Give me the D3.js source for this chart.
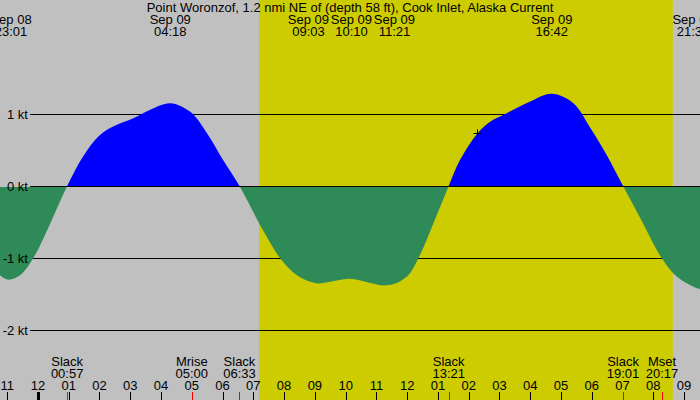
<!DOCTYPE html>
<html>
<head>
<meta charset="utf-8">
<script src="https://cdn.jsdelivr.net/npm/d3@7"></script>
<style>
  body { margin: 0; background: #fff; }
  svg { display: block; font-family: "Liberation Sans", Arial, sans-serif; font-size: 13px; }
</style>
</head>
<body>
<div id="chart"></div>
<script>
// chart text and data
var stationTitle = "Point Woronzof, 1.2 nmi NE of (depth 58 ft), Cook Inlet, Alaska Current";
var timeDomain = ["Sep 08 22:46", "Sep 09 21:31"];
var daylight = ["Sep 09 07:11", "Sep 09 20:38"];

// current speed (kt), + is flood, - is ebb
var curveTimes = [
  "Sep 08 22:46", "Sep 08 23:01", "Sep 08 23:25", "Sep 08 23:51", "Sep 09 00:24",
  "Sep 09 00:57", "Sep 09 01:28", "Sep 09 02:01", "Sep 09 02:34", "Sep 09 03:06",
  "Sep 09 03:39", "Sep 09 04:18", "Sep 09 04:57", "Sep 09 05:30", "Sep 09 06:01",
  "Sep 09 06:33", "Sep 09 07:20", "Sep 09 07:52", "Sep 09 08:25", "Sep 09 09:03",
  "Sep 09 10:10", "Sep 09 11:21", "Sep 09 11:59", "Sep 09 12:22", "Sep 09 12:51",
  "Sep 09 13:21", "Sep 09 13:43", "Sep 09 14:17", "Sep 09 14:41", "Sep 09 15:14",
  "Sep 09 15:59", "Sep 09 16:42", "Sep 09 17:24", "Sep 09 17:56", "Sep 09 18:29",
  "Sep 09 19:01", "Sep 09 19:40", "Sep 09 20:16", "Sep 09 20:46", "Sep 09 21:25",
  "Sep 09 21:31"
];
var curveValues = [
  -1.24, -1.30, -1.24, -1.00, -0.52,
  0, 0.41, 0.71, 0.85, 0.94,
  1.06, 1.15, 1.03, 0.73, 0.36,
  0, -0.63, -1.00, -1.24, -1.35,
  -1.29, -1.38, -1.26, -1.00, -0.52,
  0, 0.36, 0.73, 0.89, 1.01,
  1.17, 1.28, 1.15, 0.82, 0.43,
  0, -0.52, -1.00, -1.26, -1.42,
  -1.43
];

// max / min current times printed along the top
var extremaTimes = [
  "Sep 08 23:01", "Sep 09 04:18", "Sep 09 09:03", "Sep 09 10:10",
  "Sep 09 11:21", "Sep 09 16:42", "Sep 09 21:34"
];

// slack water and moon events along the bottom
var eventNames = ["Slack", "Mrise", "Slack", "Slack", "Slack", "Mset"];
var eventTimes = [
  "Sep 09 00:57", "Sep 09 05:00", "Sep 09 06:33",
  "Sep 09 13:21", "Sep 09 19:01", "Sep 09 20:17"
];

var gridValues = [1, 0, -1, -2];

// the small cross drawn on the curve
var markerTime = "Sep 09 14:17";
var markerValue = 0.73;

var width = 700;
var height = 400;

var parse = d3.utcParse("%b %d %H:%M");
var fmtDay = d3.utcFormat("%b %d");
var fmtTime = d3.utcFormat("%H:%M");
var fmtHour = d3.utcFormat("%I");

var x = d3.scaleUtc().domain(timeDomain.map(parse)).range([0, width]);
var y = d3.scaleLinear().domain([1, -2]).range([114, 330]);
var y0 = y(0);

var svg = d3.select("#chart").append("svg")
  .attr("width", width)
  .attr("height", height);

// night background and daylight band
svg.append("rect")
  .attr("width", width).attr("height", height)
  .attr("fill", "#c0c0c0");

svg.append("rect")
  .attr("x", x(parse(daylight[0])))
  .attr("width", x(parse(daylight[1])) - x(parse(daylight[0])))
  .attr("height", height)
  .attr("fill", "#cccc00");

// horizontal speed lines
svg.selectAll(".grid").data(gridValues).enter().append("line")
  .attr("class", "grid")
  .attr("x1", 30).attr("x2", width)
  .attr("y1", function (d) { return Math.round(y(d)) + 0.5; })
  .attr("y2", function (d) { return Math.round(y(d)) + 0.5; })
  .attr("stroke", "#000");

// the current curve, blue above zero, green below
var points = curveTimes.map(function (t, i) {
  return { t: parse(t), v: curveValues[i] };
});

var area = d3.area()
  .x(function (d) { return x(d.t); })
  .y0(y0)
  .y1(function (d) { return y(d.v); })
  .curve(d3.curveCatmullRom.alpha(0.5));

var defs = svg.append("defs");
defs.append("clipPath").attr("id", "clip-flood")
  .append("rect").attr("width", width).attr("height", y0);
defs.append("clipPath").attr("id", "clip-ebb")
  .append("rect").attr("y", y0 + 1).attr("width", width).attr("height", height - y0);

svg.append("path")
  .datum(points)
  .attr("d", area)
  .attr("fill", "#0000ff")
  .attr("clip-path", "url(#clip-flood)");

svg.append("path")
  .datum(points)
  .attr("d", area)
  .attr("fill", "#2e8b57")
  .attr("clip-path", "url(#clip-ebb)");

svg.selectAll(".grid-label").data(gridValues).enter().append("text")
  .attr("class", "grid-label")
  .attr("x", 28)
  .attr("y", function (d) { return y(d) + 4.5; })
  .attr("text-anchor", "end")
  .text(function (d) { return d + " kt"; });

// cross marker
var mx = Math.round(x(parse(markerTime))) + 0.5;
var my = Math.round(y(markerValue)) + 0.5;
svg.append("path")
  .attr("d", "M" + (mx - 4) + "," + my + "H" + (mx + 4) + "M" + mx + "," + (my - 4) + "V" + (my + 4))
  .attr("stroke", "#000")
  .attr("fill", "none");

// title
svg.append("text")
  .attr("x", width / 2)
  .attr("y", 12)
  .attr("text-anchor", "middle")
  .text(stationTitle);

// top labels for max/min times, spread apart where they crowd
var minGap = 43;
var ext = extremaTimes.map(function (t) {
  var d = parse(t);
  return { d: d, x: x(d) };
});
var i = 0;
while (i < ext.length) {
  var j = i;
  while (j + 1 < ext.length && ext[j + 1].x - ext[j].x < minGap) j++;
  if (j > i) {
    var mid = d3.mean(ext.slice(i, j + 1), function (e) { return e.x; });
    for (var k = i; k <= j; k++) {
      ext[k].x = mid + (k - i - (j - i) / 2) * minGap;
    }
  }
  i = j + 1;
}
ext.forEach(function (e) { e.x = Math.max(11, Math.min(width - 7, e.x)); });

var topLabels = svg.selectAll(".extreme").data(ext).enter().append("g")
  .attr("class", "extreme");
topLabels.append("text")
  .attr("x", function (e) { return e.x; })
  .attr("y", 24)
  .attr("text-anchor", "middle")
  .text(function (e) { return fmtDay(e.d); });
topLabels.append("text")
  .attr("x", function (e) { return e.x; })
  .attr("y", 36)
  .attr("text-anchor", "middle")
  .text(function (e) { return fmtTime(e.d); });

// hour ticks along the bottom
var hours = d3.utcHour.range(x.domain()[0], x.domain()[1]);
svg.selectAll(".hour-tick").data(hours).enter().append("line")
  .attr("class", "hour-tick")
  .attr("x1", function (d) { return Math.round(x(d)) + 0.5; })
  .attr("x2", function (d) { return Math.round(x(d)) + 0.5; })
  .attr("y1", 392).attr("y2", height)
  .attr("stroke", "#000")
  .attr("stroke-width", function (d) { return d.getUTCHours() === 0 ? 3 : 1; });

svg.selectAll(".hour-label").data(hours).enter().append("text")
  .attr("class", "hour-label")
  .attr("x", function (d) { return x(d); })
  .attr("y", 390)
  .attr("text-anchor", "middle")
  .text(function (d) { return fmtHour(d); });

// events: red ticks and two-line labels
var events = eventTimes.map(function (t, i) {
  return { d: parse(t), name: eventNames[i] };
});
svg.selectAll(".event-tick").data(events).enter().append("line")
  .attr("class", "event-tick")
  .attr("x1", function (e) { return Math.round(x(e.d)) + 0.5; })
  .attr("x2", function (e) { return Math.round(x(e.d)) + 0.5; })
  .attr("y1", 392).attr("y2", height)
  .attr("stroke", "#ff0000");

var ev = svg.selectAll(".event").data(events).enter().append("g")
  .attr("class", "event");
ev.append("text")
  .attr("x", function (e) { return x(e.d); })
  .attr("y", 366)
  .attr("text-anchor", "middle")
  .text(function (e) { return e.name; });
ev.append("text")
  .attr("x", function (e) { return x(e.d); })
  .attr("y", 378)
  .attr("text-anchor", "middle")
  .text(function (e) { return fmtTime(e.d); });
</script>
</body>
</html>
